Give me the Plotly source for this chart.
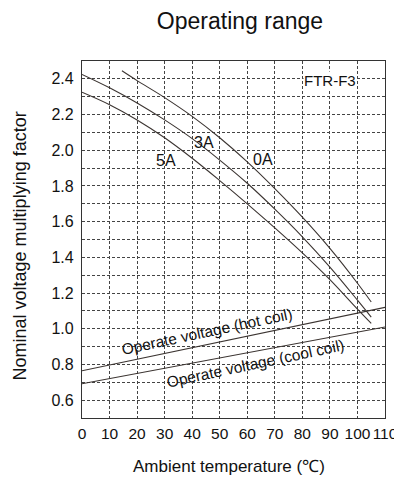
import plotly.graph_objects as go

# ---- data ----
temp_0a = [14.5, 20, 30, 40, 50, 60, 70, 80, 90, 100, 105]
volt_0a = [2.445, 2.39, 2.295, 2.19, 2.07, 1.935, 1.785, 1.625, 1.45, 1.255, 1.15]

temp_3a = [0, 10, 20, 30, 40, 50, 60, 70, 80, 90, 100, 105]
volt_3a = [2.425, 2.35, 2.265, 2.17, 2.065, 1.945, 1.815, 1.67, 1.515, 1.345, 1.16, 1.065]

temp_5a = [0, 10, 20, 30, 40, 50, 60, 70, 80, 90, 100, 105]
volt_5a = [2.325, 2.255, 2.17, 2.07, 1.955, 1.83, 1.70, 1.565, 1.425, 1.275, 1.11, 1.03]

temp_op = [0, 110]
volt_hot = [0.765, 1.12]
volt_cool = [0.692, 1.01]

x_ticks = [0, 10, 20, 30, 40, 50, 60, 70, 80, 90, 100, 110]
y_ticks = [0.6, 0.8, 1.0, 1.2, 1.4, 1.6, 1.8, 2.0, 2.2, 2.4]
y_ticktext = ["0.6", "0.8", "1.0", "1.2", "1.4", "1.6", "1.8", "2.0", "2.2", "2.4"]

FONT = "Liberation Sans, Arial, sans-serif"
LINE = "#3b3431"
GRID = "#444444"
TXT = "#111111"

fig = go.Figure()
for tx, vy in [(temp_0a, volt_0a), (temp_3a, volt_3a), (temp_5a, volt_5a)]:
    fig.add_trace(go.Scatter(x=tx, y=vy, mode="lines",
                             line=dict(color=LINE, width=1.1, shape="spline", smoothing=1.0),
                             hoverinfo="skip", showlegend=False))
for vy in [volt_hot, volt_cool]:
    fig.add_trace(go.Scatter(x=temp_op, y=vy, mode="lines",
                             line=dict(color=LINE, width=1.1),
                             hoverinfo="skip", showlegend=False))

ann = [
    dict(text="FTR-F3", x=90, y=2.39, size=15, angle=0, bg="white"),
    dict(text="3A", x=44.4, y=2.043, size=16, angle=0, bg=None),
    dict(text="5A", x=30.4, y=1.942, size=16, angle=0, bg=None),
    dict(text="0A", x=65.6, y=1.949, size=16, angle=0, bg=None),
    dict(text="Operate voltage (hot coil)", x=45.4, y=0.982, size=15.5, angle=-12, bg=None),
    dict(text="Operate voltage (cool coil)", x=62.9, y=0.805, size=15.5, angle=-12, bg=None),
]
for a in ann:
    fig.add_annotation(x=a["x"], y=a["y"], xref="x", yref="y", text=a["text"],
                       showarrow=False, textangle=a["angle"],
                       xanchor="center", yanchor="middle",
                       bgcolor=a["bg"] if a["bg"] else "rgba(0,0,0,0)", borderpad=0,
                       font=dict(family=FONT, size=a["size"], color=TXT))

fig.add_annotation(x=0.485, y=-0.1345, xref="paper", yref="paper",
                   xanchor="center", yanchor="middle",
                   text="Ambient temperature (\u2103)", showarrow=False,
                   font=dict(family=FONT, size=17, color=TXT))
fig.add_annotation(x=-0.205, y=0.483, xref="paper", yref="paper",
                   xanchor="center", yanchor="middle",
                   text="Nominal voltage multiplying factor", showarrow=False,
                   textangle=-90, font=dict(family=FONT, size=18, color=TXT))

fig.update_layout(
    width=402, height=479,
    margin=dict(l=74, r=25, t=53, b=69),
    paper_bgcolor="white", plot_bgcolor="white",
    title=dict(text="Operating range", x=0.577, xref="container", xanchor="center",
               y=0.973, yref="container", yanchor="middle",
               font=dict(family=FONT, size=23, color=TXT)),
    font=dict(family=FONT, color=TXT),
)
fig.update_xaxes(range=[0, 110], tickvals=x_ticks, ticks="", showline=True, mirror=True,
                 linecolor="#333", linewidth=1.3, showgrid=True, gridcolor=GRID,
                 griddash="3px,2px", gridwidth=1, zeroline=False, tickangle=0,
                 tickfont=dict(family=FONT, size=15.5, color=TXT), ticklabelstandoff=1)
fig.update_yaxes(range=[0.5, 2.5], tickvals=y_ticks, ticktext=y_ticktext, ticks="",
                 showline=True, mirror=True, linecolor="#333", linewidth=1.3,
                 showgrid=True, gridcolor=GRID, griddash="3px,2px", gridwidth=1,
                 minor=dict(dtick=0.1, tick0=0.5, showgrid=True, gridcolor=GRID,
                            griddash="3px,2px", gridwidth=1),
                 zeroline=False,
                 tickfont=dict(family=FONT, size=16, color=TXT), ticklabelstandoff=4)

fig.write_html("out.html")
